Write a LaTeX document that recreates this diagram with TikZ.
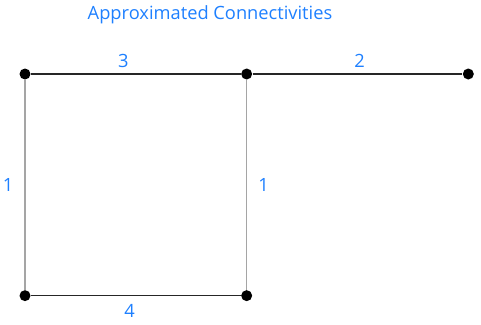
\documentclass[tikz,border=0pt]{standalone}
\usepackage{fontspec}
\setmainfont{Open Sans}
\usetikzlibrary{positioning}
\definecolor{labelblue}{RGB}{30,128,255}
\definecolor{linegray}{RGB}{165,165,165}

\begin{document}
\begin{tikzpicture}[
    x=0.02cm,
    y=-0.02cm,
    node distance=4.2cm,
    dot/.style={
        circle,
        fill=black,
        inner sep=0pt,
        minimum size=0.22cm
    },
    hline/.style={draw=black!85, line width=0.6pt},
    vline/.style={draw=linegray, line width=0.9pt},
    num/.style={
        text=labelblue,
        inner sep=0pt,
        font=\fontsize{10.4}{12}\selectfont
    },
    heading/.style={
        text=labelblue,
        inner sep=0pt,
        font=\fontsize{10.4}{12}\selectfont
    }
]
\useasboundingbox (0,0) rectangle (481,325);

\node[heading] (title) at (210,15) {Approximated Connectivities};

\node[dot] (tl) at (25,74) {};
\node[dot, right=of tl] (tm) {};
\node[dot, right=of tm] (tr) {};
\node[dot, below=of tl] (bl) {};
\node[dot, below=of tm] (bm) {};

\draw[vline] (tl) -- node[num, left=0.22cm] {1} (bl);
\draw[vline] (tm) -- node[num, right=0.22cm] {1} (bm);
\draw[hline] (tl) -- node[num, pos=0.44, above=0.11cm] {3} (tm);
\draw[hline] (tm) -- node[num, pos=0.51, above=0.11cm] {2} (tr);
\draw[hline] (bl) -- node[num, pos=0.47, below=0.17cm] {4} (bm);

\end{tikzpicture}
\end{document}
